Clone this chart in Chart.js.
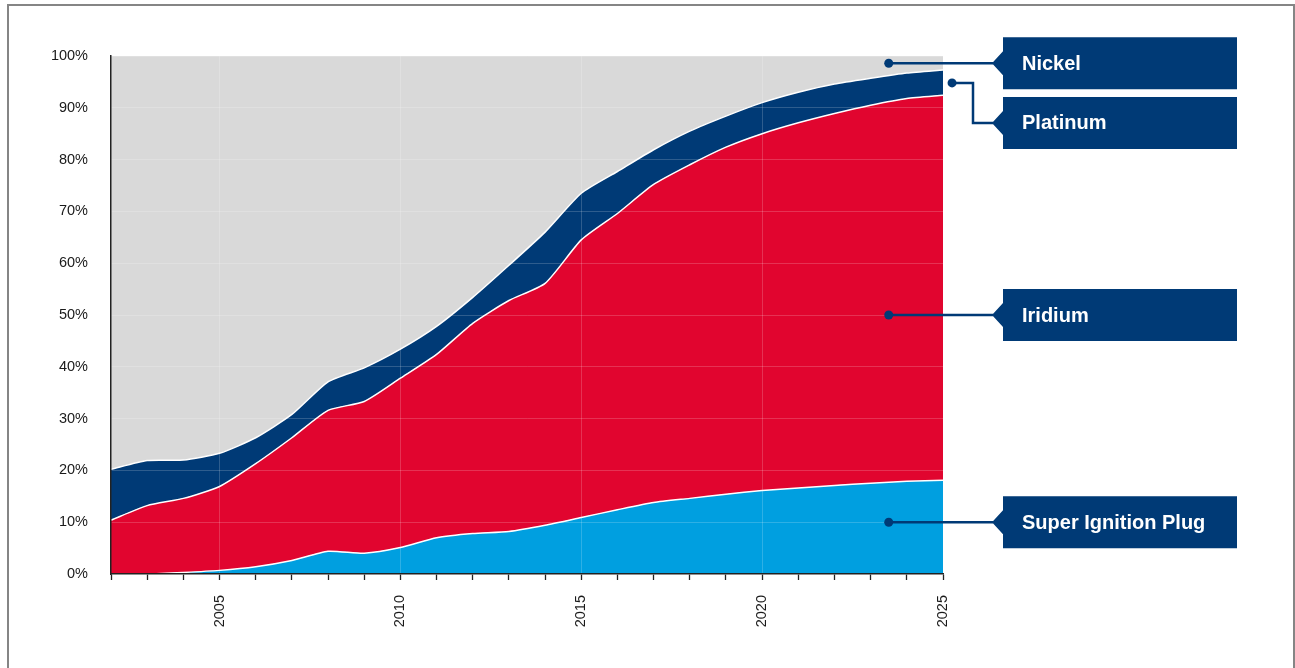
<!DOCTYPE html>
<html>
<head>
<meta charset="utf-8">
<script src="https://cdn.jsdelivr.net/npm/chart.js@4.4.1/dist/chart.umd.min.js"></script>
<style>
  body { margin: 0; background: #fff; overflow: hidden; }
  #frame { position: absolute; left: 7px; top: 4px; width: 1284px; height: 720px; border: 2px solid #858585; }
  #chart { position: absolute; left: 0; top: 0; }
</style>
</head>
<body>
<div id="frame"></div>
<canvas id="chart" width="1295" height="668"></canvas>
<script>
// market share by plug type, % of total
var years = [2002, 2003, 2004, 2005, 2006, 2007, 2008, 2009, 2010, 2011, 2012, 2013,
             2014, 2015, 2016, 2017, 2018, 2019, 2020, 2021, 2022, 2023, 2024, 2025];
var superIgnition = [0, 0, 0.3, 0.7, 1.4, 2.6, 4.4, 4.0, 5.1, 7.0, 7.8, 8.2,
                     9.4, 10.9, 12.4, 13.8, 14.6, 15.4, 16.1, 16.6, 17.1, 17.5, 17.9, 18.1];
var iridium = [10.4, 13.2, 14.3, 16.2, 19.9, 23.7, 27.2, 29.3, 32.7, 35.4, 40.6, 44.6,
               46.7, 53.6, 57.2, 61.4, 64.4, 67.0, 68.9, 70.5, 71.8, 73.0, 73.9, 74.3];
var platinum = [9.8, 8.7, 7.4, 6.4, 5.0, 4.5, 5.5, 6.5, 5.6, 5.4, 5.0, 6.8,
                9.9, 9.0, 8.1, 6.7, 6.5, 6.0, 6.0, 5.9, 5.7, 5.2, 4.9, 4.9];
var nickel = [79.8, 78.1, 78.0, 76.7, 73.7, 69.2, 62.9, 60.2, 56.6, 52.2, 46.6, 40.4,
              34.0, 26.5, 22.3, 18.1, 14.5, 11.6, 9.0, 7.0, 5.4, 4.3, 3.3, 2.7];
var yTicks = [0, 10, 20, 30, 40, 50, 60, 70, 80, 90, 100];

// callouts on the right: label, anchor year, anchor %
var calloutLabels = ["Nickel", "Platinum", "Iridium", "Super Ignition Plug"];
var calloutYears = [2023.5, 2025.25, 2023.5, 2023.5];
var calloutPcts = [98.6, 94.8, 50, 10];

var NAVY = '#003a76';
var FONT = "'Liberation Sans', Arial, sans-serif";

const toPoints = arr => arr.map((v, i) => ({ x: years[i], y: v }));

const calloutPlugin = {
  id: 'callouts',
  afterDraw(chart) {
    const ctx = chart.ctx;
    const xs = chart.scales.x, ys = chart.scales.y;
    const boxLeft = chart.chartArea.right + 60;
    const boxW = 234, boxH = 52;
    ctx.save();
    calloutLabels.forEach((label, i) => {
      const dx = xs.getPixelForValue(calloutYears[i]);
      const dy = ys.getPixelForValue(calloutPcts[i]);
      // platinum gets an elbow so its box sits under nickel's
      const cy = label === "Platinum" ? dy + 40 : dy;
      ctx.strokeStyle = NAVY;
      ctx.fillStyle = NAVY;
      ctx.lineWidth = 2.5;
      ctx.beginPath();
      ctx.moveTo(dx, dy);
      if (cy !== dy) {
        const ex = chart.chartArea.right + 30;
        ctx.lineTo(ex, dy);
        ctx.lineTo(ex, cy);
      }
      ctx.lineTo(boxLeft - 10, cy);
      ctx.stroke();
      ctx.beginPath();
      ctx.arc(dx, dy, 4.5, 0, Math.PI * 2);
      ctx.fill();
      // box with notch
      ctx.beginPath();
      ctx.moveTo(boxLeft, cy - boxH / 2);
      ctx.lineTo(boxLeft + boxW, cy - boxH / 2);
      ctx.lineTo(boxLeft + boxW, cy + boxH / 2);
      ctx.lineTo(boxLeft, cy + boxH / 2);
      ctx.lineTo(boxLeft, cy + 12);
      ctx.lineTo(boxLeft - 11, cy);
      ctx.lineTo(boxLeft, cy - 12);
      ctx.closePath();
      ctx.fill();
      ctx.fillStyle = '#fff';
      ctx.font = "bold 20px " + FONT;
      ctx.textBaseline = 'middle';
      ctx.textAlign = 'left';
      ctx.fillText(label, boxLeft + 19, cy + 1);
    });
    ctx.restore();
  }
};

var areaDefaults = { borderColor: '#ffffff', borderWidth: 1.5, pointRadius: 0, tension: 0.2 };

var ctx = document.getElementById("chart").getContext("2d");
let myChart = new Chart(ctx, {
  type: "line",
  data: {
    datasets: [
      Object.assign({ label: "Super Ignition Plug", data: toPoints(superIgnition), backgroundColor: '#009fe0', fill: 'origin' }, areaDefaults),
      Object.assign({ label: "Iridium", data: toPoints(iridium), backgroundColor: '#e1052f', fill: '-1' }, areaDefaults),
      Object.assign({ label: "Platinum", data: toPoints(platinum), backgroundColor: NAVY, fill: '-1' }, areaDefaults),
      Object.assign({}, areaDefaults, { label: "Nickel", data: toPoints(nickel), backgroundColor: '#d9d9d9', fill: '-1', borderWidth: 0 })
    ]
  },
  options: {
    responsive: false,
    animation: false,
    devicePixelRatio: 1,
    layout: { padding: { left: 0, top: 56, right: 352, bottom: 0 } },
    plugins: { legend: { display: false }, tooltip: { enabled: false } },
    scales: {
      x: {
        type: 'linear',
        min: 2002,
        max: 2025,
        afterFit: s => { s.height = 94; },
        ticks: {
          stepSize: 1,
          autoSkip: false,
          maxRotation: 90,
          minRotation: 90,
          padding: 15,
          color: '#1a1a1a',
          font: { family: FONT, size: 14.5 },
          callback: v => (v % 5 === 0 ? String(v) : '')
        },
        grid: {
          z: 1,
          color: c => (c.tick && c.tick.value % 5 === 0 && c.tick.value !== 2025) ? 'rgba(255,255,255,0.18)' : 'rgba(0,0,0,0)',
          tickColor: '#222',
          tickLength: 6,
          tickWidth: 1.3
        },
        border: { z: 2, color: '#222', width: 1.5 }
      },
      y: {
        stacked: true,
        min: 0,
        max: 100,
        afterFit: s => { s.width = 111; },
        afterBuildTicks: s => { s.ticks = yTicks.map(v => ({ value: v })); },
        ticks: {
          padding: 23,
          color: '#1a1a1a',
          font: { family: FONT, size: 14.5 },
          callback: v => v + '%'
        },
        grid: { z: 1, drawTicks: false, color: 'rgba(255,255,255,0.18)' },
        border: { z: 2, color: '#222', width: 1.5 }
      }
    }
  },
  plugins: [calloutPlugin]
});
</script>
</body>
</html>
